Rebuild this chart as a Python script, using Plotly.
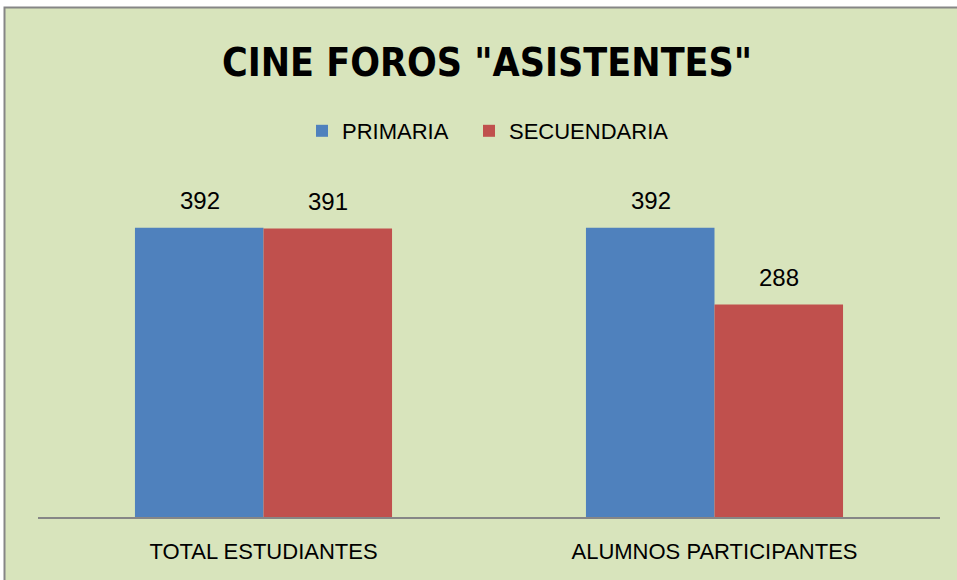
import plotly.graph_objects as go

categories = ["TOTAL ESTUDIANTES", "ALUMNOS PARTICIPANTES"]
primaria = [392, 392]
secundaria = [391, 288]
series_names = ["PRIMARIA", "SECUENDARIA"]
colors = ["#4F81BD", "#C0504D"]
title_text = 'CINE FOROS "ASISTENTES"'

W, H = 957, 580
ML, MR, MT, MB = 38, 17, 185, 63
YMAX = 450

pw, ph = W - ML - MR, H - MT - MB
legend_ids = ["legend", "legend2"]
legend_left_px = [302, 469]

fig = go.Figure()
for name, vals, col, lg in zip(series_names, [primaria, secundaria], colors, legend_ids):
    fig.add_trace(go.Bar(
        x=categories, y=vals, name=name, legend=lg, showlegend=True,
        marker=dict(color=col, line=dict(width=0)),
    ))

# value labels above each bar
offsets = [-64, 64]
for vals, dx in zip([primaria, secundaria], offsets):
    for c, v in zip(categories, vals):
        fig.add_annotation(
            x=c, y=v, xref="x", yref="y", text=str(v), showarrow=False,
            xshift=dx, yshift=12, yanchor="bottom",
            font=dict(family="Liberation Sans", size=24, color="#000000"),
        )

# chart frame
fig.add_shape(
    type="rect", xref="paper", yref="paper", layer="below",
    x0=(4.5 - ML) / pw, x1=(W + 10 - ML) / pw,
    y0=-(MB + 10) / ph, y1=(H - MB - 7.5) / ph,
    fillcolor="#D8E4BC", line=dict(color="#868686", width=2),
)

legend_style = dict(
    orientation="h", xref="paper", yref="paper",
    y=(H - MB - 131) / ph, xanchor="left", yanchor="middle",
    font=dict(family="Liberation Sans", size=22, color="#000000"),
    bgcolor="rgba(0,0,0,0)", visible=True,
)

fig.update_layout(
    width=W, height=H,
    margin=dict(l=ML, r=MR, t=MT, b=MB),
    paper_bgcolor="#FFFFFF", plot_bgcolor="rgba(0,0,0,0)",
    showlegend=True,
    barmode="group", bargap=0.43, bargroupgap=0,
    title=dict(
        text=title_text, xref="container", yref="container",
        x=487 / W, y=1 - 62 / H, xanchor="center", yanchor="middle",
        font=dict(family="DejaVu Sans Condensed", size=39, color="#000000", weight="bold"),
    ),
    legend=dict(x=(legend_left_px[0] - ML) / pw, **legend_style),
    legend2=dict(x=(legend_left_px[1] - ML) / pw, **legend_style),
    xaxis=dict(
        showline=True, linecolor="#868686", linewidth=2, ticks="",
        tickfont=dict(family="Liberation Sans", size=22, color="#000000"),
        ticklabelstandoff=14,
    ),
    yaxis=dict(range=[0, YMAX], visible=False, showgrid=False),
)

fig.write_html("out.html")
